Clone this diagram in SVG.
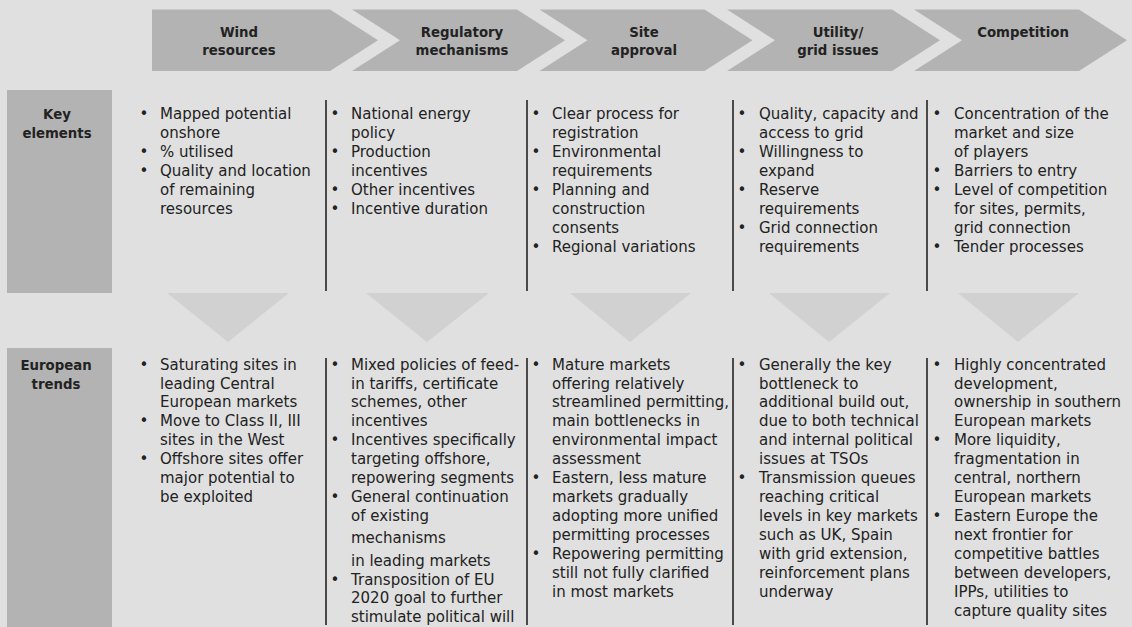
<svg xmlns="http://www.w3.org/2000/svg" width="1132" height="627" viewBox="0 0 1132 627">
<style>
.bg{fill:#e0e0e0}
.chev{fill:#b3b3b3}
.lbl{fill:#b3b3b3}
.tri{fill:#d1d1d1}
.div{stroke:#4a4a4a;stroke-width:2}
text{font-family:"DejaVu Sans","Liberation Sans",sans-serif;fill:#222}
.h{font-size:13.3px;font-weight:bold;text-anchor:middle}
.b{font-size:15px}
.bu{font-size:15px;text-anchor:middle}
</style>
<rect class="bg" x="0" y="0" width="1132" height="627"/>

<g id="hdr-wind">
<polygon class="chev" points="152,9.5 330,9.5 378,40.25 330,71 152,71"/>
<text class="h"><tspan x="239" y="36.5">Wind</tspan><tspan x="239" y="55">resources</tspan></text>
</g>
<g id="hdr-regulatory">
<polygon class="chev" points="352,9.5 517,9.5 565,40.25 517,71 352,71 400,40.25"/>
<text class="h"><tspan x="462" y="36.5">Regulatory</tspan><tspan x="462" y="55">mechanisms</tspan></text>
</g>
<g id="hdr-site">
<polygon class="chev" points="539.5,9.5 704.5,9.5 752.5,40.25 704.5,71 539.5,71 587.5,40.25"/>
<text class="h"><tspan x="644" y="36.5">Site</tspan><tspan x="644" y="55">approval</tspan></text>
</g>
<g id="hdr-utility">
<polygon class="chev" points="727,9.5 892,9.5 940,40.25 892,71 727,71 775,40.25"/>
<text class="h"><tspan x="838" y="36.5">Utility/</tspan><tspan x="838" y="55">grid issues</tspan></text>
</g>
<g id="hdr-competition">
<polygon class="chev" points="914,9.5 1079,9.5 1127,40.25 1079,71 914,71 962,40.25"/>
<text class="h" x="1023" y="36.5">Competition</text>
</g>

<g id="row-key">
<rect class="lbl" x="7" y="90" width="105" height="203"/>
<text class="h"><tspan x="57" y="119">Key</tspan><tspan x="57" y="138">elements</tspan></text>
</g>
<g id="row-trends">
<rect class="lbl" x="7" y="348" width="105" height="279"/>
<text class="h"><tspan x="56" y="369.5">European</tspan><tspan x="56" y="388.5">trends</tspan></text>
</g>

<g id="connectors">
<polygon class="tri" points="167,293 289,293 228,342"/>
<polygon class="tri" points="366,293 489,293 427,342"/>
<polygon class="tri" points="570,293 691,293 630,342"/>
<polygon class="tri" points="769,293 890,293 829,342"/>
<polygon class="tri" points="958,293 1079,293 1018,342"/>
</g>

<g id="dividers">
<line class="div" x1="326" y1="100" x2="326" y2="291"/>
<line class="div" x1="527" y1="100" x2="527" y2="291"/>
<line class="div" x1="733" y1="100" x2="733" y2="291"/>
<line class="div" x1="927" y1="100" x2="927" y2="291"/>
<line class="div" x1="326" y1="358" x2="326" y2="625"/>
<line class="div" x1="527" y1="358" x2="527" y2="625"/>
<line class="div" x1="733" y1="358" x2="733" y2="625"/>
<line class="div" x1="927" y1="358" x2="927" y2="625"/>
</g>

<g id="key-wind">
<text class="bu"><tspan x="144" y="119">•</tspan><tspan x="144" y="156.9">•</tspan><tspan x="144" y="175.9">•</tspan></text>
<text class="b"><tspan x="160" y="119">Mapped potential</tspan><tspan x="160" y="138">onshore</tspan><tspan x="160" y="156.9">% utilised</tspan><tspan x="160" y="175.9">Quality and location</tspan><tspan x="160" y="194.8">of remaining</tspan><tspan x="160" y="213.8">resources</tspan></text>
</g>
<g id="key-regulatory">
<text class="bu"><tspan x="335" y="119">•</tspan><tspan x="335" y="156.9">•</tspan><tspan x="335" y="194.8">•</tspan><tspan x="335" y="213.8">•</tspan></text>
<text class="b"><tspan x="351" y="119">National energy</tspan><tspan x="351" y="138">policy</tspan><tspan x="351" y="156.9">Production</tspan><tspan x="351" y="175.9">incentives</tspan><tspan x="351" y="194.8">Other incentives</tspan><tspan x="351" y="213.8">Incentive duration</tspan></text>
</g>
<g id="key-site">
<text class="bu"><tspan x="536" y="119">•</tspan><tspan x="536" y="156.9">•</tspan><tspan x="536" y="194.8">•</tspan><tspan x="536" y="251.7">•</tspan></text>
<text class="b"><tspan x="552" y="119">Clear process for</tspan><tspan x="552" y="138">registration</tspan><tspan x="552" y="156.9">Environmental</tspan><tspan x="552" y="175.9">requirements</tspan><tspan x="552" y="194.8">Planning and</tspan><tspan x="552" y="213.8">construction</tspan><tspan x="552" y="232.7">consents</tspan><tspan x="552" y="251.7">Regional variations</tspan></text>
</g>
<g id="key-utility">
<text class="bu"><tspan x="742" y="119">•</tspan><tspan x="742" y="156.9">•</tspan><tspan x="742" y="194.8">•</tspan><tspan x="742" y="232.7">•</tspan></text>
<text class="b"><tspan x="759" y="119">Quality, capacity and</tspan><tspan x="759" y="138">access to grid</tspan><tspan x="759" y="156.9">Willingness to</tspan><tspan x="759" y="175.9">expand</tspan><tspan x="759" y="194.8">Reserve</tspan><tspan x="759" y="213.8">requirements</tspan><tspan x="759" y="232.7">Grid connection</tspan><tspan x="759" y="251.7">requirements</tspan></text>
</g>
<g id="key-competition">
<text class="bu"><tspan x="937" y="119">•</tspan><tspan x="937" y="175.9">•</tspan><tspan x="937" y="194.8">•</tspan><tspan x="937" y="251.7">•</tspan></text>
<text class="b"><tspan x="954" y="119">Concentration of the</tspan><tspan x="954" y="138">market and size</tspan><tspan x="954" y="156.9">of players</tspan><tspan x="954" y="175.9">Barriers to entry</tspan><tspan x="954" y="194.8">Level of competition</tspan><tspan x="954" y="213.8">for sites, permits,</tspan><tspan x="954" y="232.7">grid connection</tspan><tspan x="954" y="251.7">Tender processes</tspan></text>
</g>

<g id="trend-wind">
<text class="bu"><tspan x="144" y="369.5">•</tspan><tspan x="144" y="426.4">•</tspan><tspan x="144" y="464.3">•</tspan></text>
<text class="b"><tspan x="160" y="369.5">Saturating sites in</tspan><tspan x="160" y="388.5">leading Central</tspan><tspan x="160" y="407.4">European markets</tspan><tspan x="160" y="426.4">Move to Class II, III</tspan><tspan x="160" y="445.3">sites in the West</tspan><tspan x="160" y="464.3">Offshore sites offer</tspan><tspan x="160" y="483.2">major potential to</tspan><tspan x="160" y="502.2">be exploited</tspan></text>
</g>
<g id="trend-regulatory">
<text class="bu"><tspan x="335" y="369.5">•</tspan><tspan x="335" y="445.3">•</tspan><tspan x="335" y="502.2">•</tspan><tspan x="335" y="584.5">•</tspan></text>
<text class="b"><tspan x="351" y="369.5">Mixed policies of feed-</tspan><tspan x="351" y="388.5">in tariffs, certificate</tspan><tspan x="351" y="407.4">schemes, other</tspan><tspan x="351" y="426.4">incentives</tspan><tspan x="351" y="445.3">Incentives specifically</tspan><tspan x="351" y="464.3">targeting offshore,</tspan><tspan x="351" y="483.2">repowering segments</tspan><tspan x="351" y="502.2">General continuation</tspan><tspan x="351" y="521.1">of existing</tspan><tspan x="351" y="543.1">mechanisms</tspan><tspan x="351" y="565.5">in leading markets</tspan><tspan x="351" y="584.5">Transposition of EU</tspan><tspan x="351" y="603.4">2020 goal to further</tspan><tspan x="351" y="622.4">stimulate political will</tspan></text>
</g>
<g id="trend-site">
<text class="bu"><tspan x="536" y="369.5">•</tspan><tspan x="536" y="483.2">•</tspan><tspan x="536" y="559">•</tspan></text>
<text class="b"><tspan x="552" y="369.5">Mature markets</tspan><tspan x="552" y="388.5">offering relatively</tspan><tspan x="552" y="407.4">streamlined permitting,</tspan><tspan x="552" y="426.4">main bottlenecks in</tspan><tspan x="552" y="445.3">environmental impact</tspan><tspan x="552" y="464.3">assessment</tspan><tspan x="552" y="483.2">Eastern, less mature</tspan><tspan x="552" y="502.2">markets gradually</tspan><tspan x="552" y="521.1">adopting more unified</tspan><tspan x="552" y="540.1">permitting processes</tspan><tspan x="552" y="559">Repowering permitting</tspan><tspan x="552" y="578">still not fully clarified</tspan><tspan x="552" y="596.9">in most markets</tspan></text>
</g>
<g id="trend-utility">
<text class="bu"><tspan x="742" y="369.5">•</tspan><tspan x="742" y="483.2">•</tspan></text>
<text class="b"><tspan x="759" y="369.5">Generally the key</tspan><tspan x="759" y="388.5">bottleneck to</tspan><tspan x="759" y="407.4">additional build out,</tspan><tspan x="759" y="426.4">due to both technical</tspan><tspan x="759" y="445.3">and internal political</tspan><tspan x="759" y="464.3">issues at TSOs</tspan><tspan x="759" y="483.2">Transmission queues</tspan><tspan x="759" y="502.2">reaching critical</tspan><tspan x="759" y="521.1">levels in key markets</tspan><tspan x="759" y="540.1">such as UK, Spain</tspan><tspan x="759" y="559">with grid extension,</tspan><tspan x="759" y="578">reinforcement plans</tspan><tspan x="759" y="596.9">underway</tspan></text>
</g>
<g id="trend-competition">
<text class="bu"><tspan x="937" y="369.5">•</tspan><tspan x="937" y="445.3">•</tspan><tspan x="937" y="521.1">•</tspan></text>
<text class="b"><tspan x="954" y="369.5">Highly concentrated</tspan><tspan x="954" y="388.5">development,</tspan><tspan x="954" y="407.4">ownership in southern</tspan><tspan x="954" y="426.4">European markets</tspan><tspan x="954" y="445.3">More liquidity,</tspan><tspan x="954" y="464.3">fragmentation in</tspan><tspan x="954" y="483.2">central, northern</tspan><tspan x="954" y="502.2">European markets</tspan><tspan x="954" y="521.1">Eastern Europe the</tspan><tspan x="954" y="540.1">next frontier for</tspan><tspan x="954" y="559">competitive battles</tspan><tspan x="954" y="578">between developers,</tspan><tspan x="954" y="596.9">IPPs, utilities to</tspan><tspan x="954" y="615.9">capture quality sites</tspan></text>
</g>
</svg>
